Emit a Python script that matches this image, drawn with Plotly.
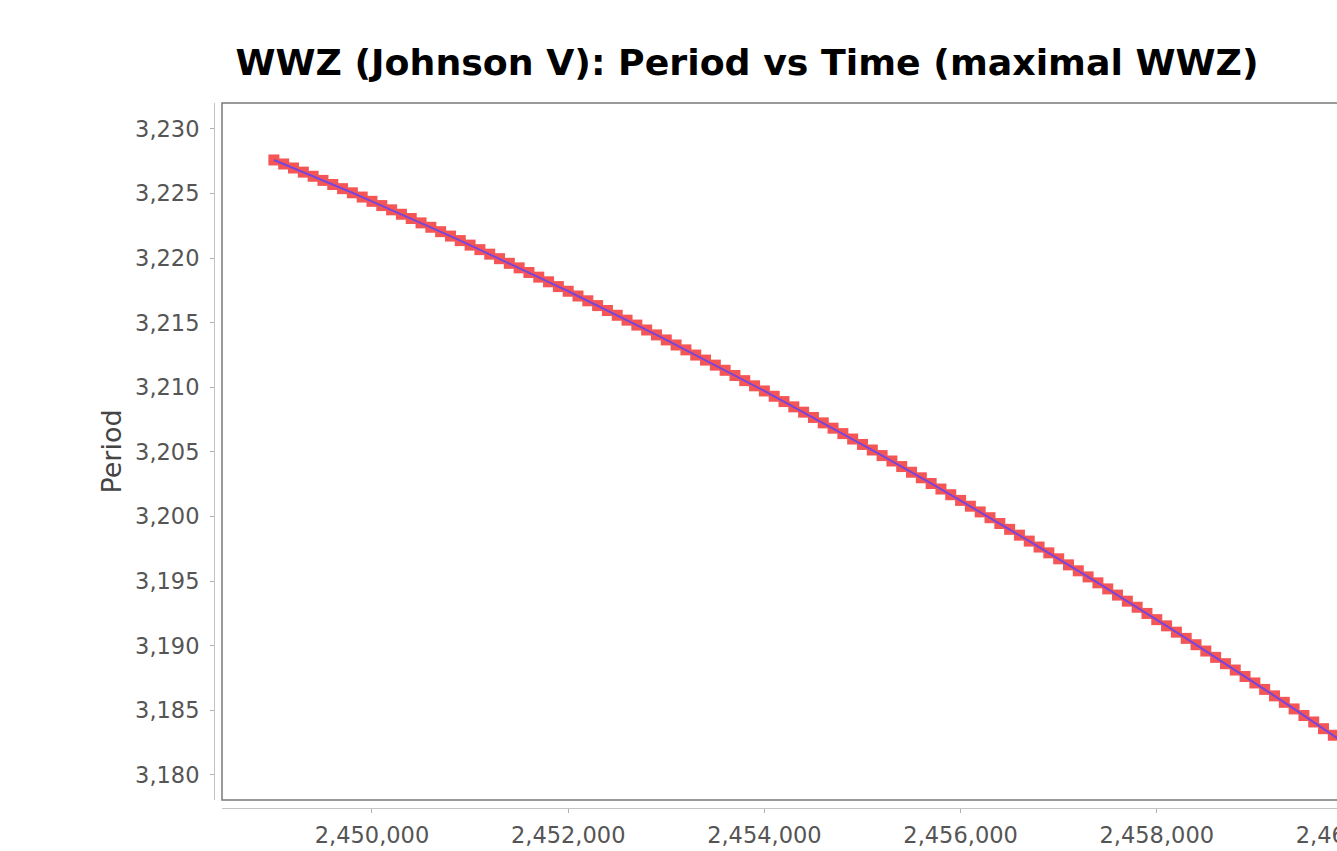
import plotly.graph_objects as go

# Data (time in JD, period)
time_jd = [
    2449000, 2449100, 2449200, 2449300, 2449400, 2449500, 2449600, 2449700, 2449800, 2449900,
    2450000, 2450100, 2450200, 2450300, 2450400, 2450500, 2450600, 2450700, 2450800, 2450900,
    2451000, 2451100, 2451200, 2451300, 2451400, 2451500, 2451600, 2451700, 2451800, 2451900,
    2452000, 2452100, 2452200, 2452300, 2452400, 2452500, 2452600, 2452700, 2452800, 2452900,
    2453000, 2453100, 2453200, 2453300, 2453400, 2453500, 2453600, 2453700, 2453800, 2453900,
    2454000, 2454100, 2454200, 2454300, 2454400, 2454500, 2454600, 2454700, 2454800, 2454900,
    2455000, 2455100, 2455200, 2455300, 2455400, 2455500, 2455600, 2455700, 2455800, 2455900,
    2456000, 2456100, 2456200, 2456300, 2456400, 2456500, 2456600, 2456700, 2456800, 2456900,
    2457000, 2457100, 2457200, 2457300, 2457400, 2457500, 2457600, 2457700, 2457800, 2457900,
    2458000, 2458100, 2458200, 2458300, 2458400, 2458500, 2458600, 2458700, 2458800, 2458900,
    2459000, 2459100, 2459200, 2459300, 2459400, 2459500, 2459600, 2459700, 2459800, 2459900,
    2460000, 2460100, 2460200,
]
period = [
    3.22760, 3.22729, 3.22698, 3.22666, 3.22634, 3.22602, 3.22570, 3.22538, 3.22506, 3.22473,
    3.22440, 3.22407, 3.22374, 3.22340, 3.22307, 3.22273, 3.22239, 3.22205, 3.22171, 3.22136,
    3.22101, 3.22066, 3.22031, 3.21996, 3.21960, 3.21925, 3.21889, 3.21853, 3.21817, 3.21780,
    3.21744, 3.21707, 3.21670, 3.21633, 3.21595, 3.21558, 3.21520, 3.21482, 3.21444, 3.21406,
    3.21367, 3.21328, 3.21290, 3.21250, 3.21211, 3.21172, 3.21132, 3.21092, 3.21052, 3.21012,
    3.20972, 3.20931, 3.20890, 3.20849, 3.20808, 3.20767, 3.20725, 3.20684, 3.20642, 3.20600,
    3.20558, 3.20515, 3.20472, 3.20430, 3.20387, 3.20343, 3.20300, 3.20256, 3.20213, 3.20169,
    3.20125, 3.20080, 3.20036, 3.19991, 3.19946, 3.19901, 3.19856, 3.19810, 3.19764, 3.19719,
    3.19673, 3.19626, 3.19580, 3.19533, 3.19487, 3.19440, 3.19392, 3.19345, 3.19298, 3.19250,
    3.19202, 3.19154, 3.19105, 3.19057, 3.19008, 3.18959, 3.18910, 3.18861, 3.18812, 3.18762,
    3.18712, 3.18662, 3.18612, 3.18562, 3.18511, 3.18460, 3.18410, 3.18358, 3.18307, 3.18256,
    3.18204, 3.18152, 3.18100,
]

x_tick_vals = [2450000, 2452000, 2454000, 2456000, 2458000, 2460000]
x_tick_text = ["2,450,000", "2,452,000", "2,454,000", "2,456,000", "2,458,000", "2,460,000"]
y_tick_vals = [3.180, 3.185, 3.190, 3.195, 3.200, 3.205, 3.210, 3.215, 3.220, 3.225, 3.230]
y_tick_text = ["3,180", "3,185", "3,190", "3,195", "3,200", "3,205", "3,210", "3,215",
               "3,220", "3,225", "3,230"]

title_text = "WWZ (Johnson V): Period vs Time (maximal WWZ)"
y_title = "Period"

# The original chart is wider than the browser window; the page clips it on the right.
W, H = 1494, 851
ml, mr, mt, mb = 214, 14, 103, 43
offset = 8
x_dom0 = offset / (W - ml - mr)
y_dom0 = offset / (H - mt - mb)

fig = go.Figure()
fig.add_trace(go.Scatter(
    x=time_jd, y=period, mode="markers",
    marker=dict(symbol="square", size=11, color="rgb(245,85,85)", line=dict(width=0)),
    showlegend=False, hoverinfo="x+y",
))
fig.add_trace(go.Scatter(
    x=time_jd, y=period, mode="lines",
    line=dict(color="rgb(120,70,220)", width=2),
    showlegend=False, hoverinfo="skip",
))

tick_font = dict(family="DejaVu Sans, Verdana, sans-serif", size=22.5, color="#555555")

fig.update_layout(
    width=W, height=H,
    margin=dict(l=ml, r=mr, t=mt, b=mb, pad=0, autoexpand=False),
    paper_bgcolor="white", plot_bgcolor="white",
    title=dict(
        text=title_text,
        x=747 / W, xref="container", xanchor="center",
        y=1 - 62 / H, yref="container", yanchor="middle",
        font=dict(family="DejaVu Sans, Verdana, sans-serif", size=36.3, color="black",
                  weight="bold"),
    ),
    xaxis=dict(
        domain=[x_dom0, 1], range=[2448471, 2461295],
        anchor="free", position=0, automargin=False,
        showgrid=False, zeroline=False,
        showline=True, linecolor="#c4c4c4", linewidth=1,
        ticks="outside", ticklen=4, tickcolor="#b0b0b0", tickwidth=1,
        tickvals=x_tick_vals, ticktext=x_tick_text,
        tickfont=tick_font, ticklabelstandoff=3,
    ),
    yaxis=dict(
        domain=[y_dom0, 1], range=[3.17806, 3.23201],
        anchor="free", position=0, automargin=False,
        showgrid=False, zeroline=False,
        showline=True, linecolor="#c4c4c4", linewidth=1,
        ticks="outside", ticklen=4, tickcolor="#b0b0b0", tickwidth=1,
        tickvals=y_tick_vals, ticktext=y_tick_text,
        tickfont=tick_font, ticklabelstandoff=6,
        title=dict(text=y_title, standoff=4,
                   font=dict(family="DejaVu Sans, Verdana, sans-serif", size=27,
                             color="#444444")),
    ),
)

fig.add_shape(type="rect", xref="paper", yref="paper", x0=x_dom0, x1=1, y0=y_dom0, y1=1,
              line=dict(color="#7a7a7a", width=1.5), fillcolor="rgba(0,0,0,0)", layer="above")

fig.write_html(
    "out.html",
    config={"displayModeBar": False},
    post_script="document.body.style.margin='0';document.body.style.overflow='hidden';",
)
